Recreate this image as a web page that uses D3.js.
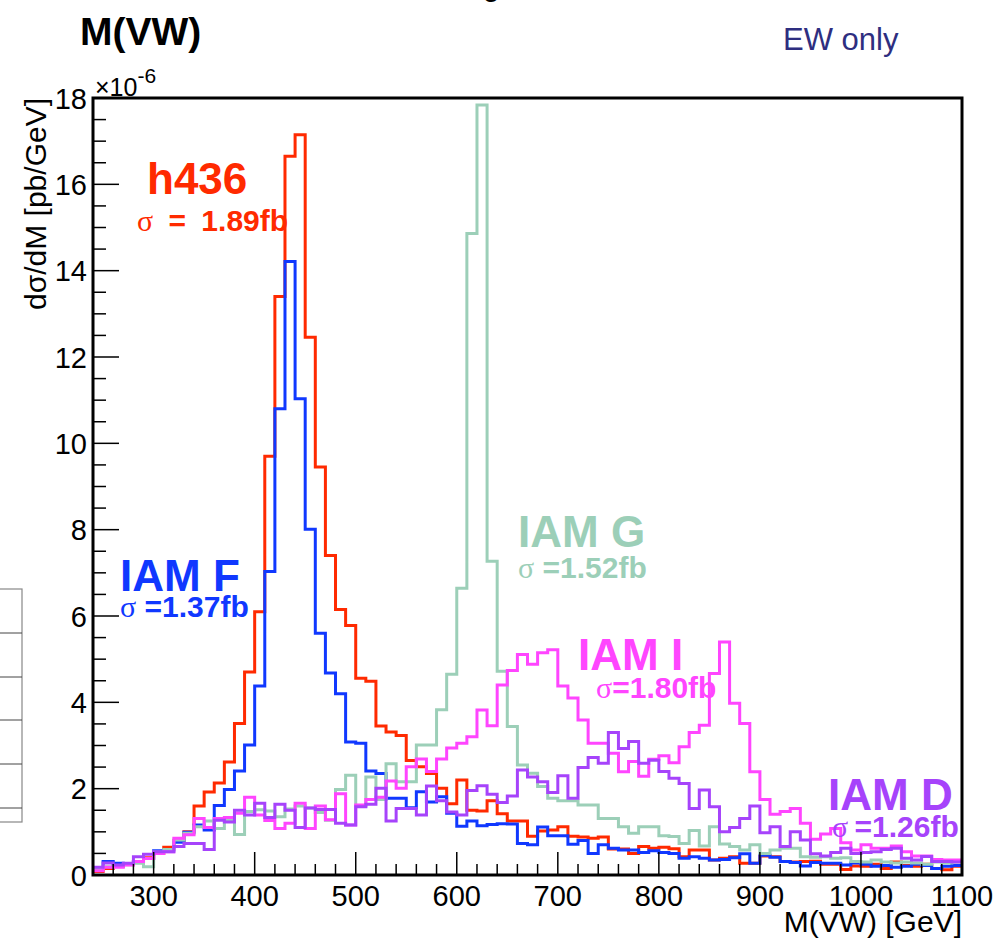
<!DOCTYPE html>
<html>
<head>
<meta charset="utf-8">
<script src="https://cdn.jsdelivr.net/npm/d3@7"></script>
<style>
  html, body { margin: 0; padding: 0; background: #ffffff; }
  svg { display: block; }
  text { font-family: "Liberation Sans", Arial, Helvetica, sans-serif; }
</style>
</head>
<body>
<svg id="chart" width="999" height="943"></svg>
<script>
// M(VW) distributions, 10 GeV bins from 240 to 1100 GeV, in units of 1e-6 pb/GeV
const binLowEdges = d3.range(240, 1100, 10);
const binWidthGeV = 10;

const h436 = [0.08,0.15,0.2,0.25,0.3,0.4,0.5,0.64,0.8,1.0,
  1.6,1.92,2.13,2.62,3.51,4.7,6.1,9.7,13.4,16.65,
  17.15,12.46,9.45,7.4,6.15,5.78,4.56,4.49,3.45,3.31,
  3.23,2.65,2.51,2.35,2.01,1.65,2.2,1.5,1.48,1.72,
  1.42,1.25,1.25,0.9,1.02,1.04,1.12,0.9,0.88,0.85,
  0.88,0.6,0.6,0.5,0.66,0.62,0.64,0.61,0.42,0.58,
  0.58,0.35,0.39,0.42,0.27,0.27,0.44,0.42,0.31,0.3,
  0.31,0.32,0.25,0.25,0.13,0.21,0.2,0.25,0.15,0.3,
  0.22,0.2,0.25,0.15,0.12,0.2];

const iamF = [0.17,0.31,0.27,0.25,0.31,0.38,0.56,0.58,0.76,0.99,
  1.16,1.04,1.61,1.98,2.41,3.01,4.38,7.03,10.8,14.21,
  11.03,8.01,5.6,4.68,4.2,3.08,3.05,2.41,2.35,1.78,
  1.78,1.56,1.93,1.69,1.81,1.43,1.13,1.25,1.14,1.17,
  1.19,1.18,0.73,0.7,1.11,0.91,0.91,0.71,0.8,0.5,
  0.7,0.62,0.58,0.58,0.52,0.56,0.52,0.5,0.39,0.42,
  0.39,0.35,0.36,0.4,0.49,0.27,0.46,0.41,0.31,0.29,
  0.21,0.29,0.27,0.27,0.23,0.28,0.25,0.2,0.22,0.18,
  0.2,0.25,0.22,0.15,0.2,0.22];

const iamG = [0.15,0.19,0.2,0.24,0.27,0.19,0.53,0.59,0.81,0.97,
  1.12,1.25,1.08,1.28,0.94,1.47,1.51,1.48,1.35,1.53,
  1.6,1.55,1.45,1.27,1.98,2.31,1.6,2.27,1.75,2.58,
  2.16,2.16,3.01,3.01,3.83,4.65,6.64,14.86,17.84,7.27,
  4.72,3.44,2.55,2.36,2.05,1.78,1.72,1.72,1.62,1.62,
  1.31,1.31,1.12,0.97,1.12,1.12,0.91,0.89,0.73,1.03,
  0.67,1.12,0.72,0.66,0.58,0.7,0.5,0.58,0.62,0.62,
  0.42,0.41,0.42,0.39,0.4,0.31,0.3,0.35,0.3,0.28,
  0.3,0.28,0.25,0.3,0.28,0.3];

const iamI = [0.1,0.18,0.18,0.23,0.31,0.38,0.5,0.54,0.85,0.93,
  1.31,1.1,1.31,1.33,1.43,1.8,1.39,1.26,1.08,1.2,
  1.66,1.08,1.6,1.28,1.88,1.16,1.62,1.75,1.8,2.18,
  2.01,2.51,2.69,2.4,2.69,2.94,3.05,3.2,3.82,3.46,
  4.4,4.74,5.11,4.88,5.15,5.22,4.38,4.1,3.59,3.05,
  3.05,2.82,2.39,2.63,2.29,2.68,2.76,2.6,2.97,3.3,
  3.47,4.67,5.4,3.98,3.51,2.39,1.75,1.41,1.47,1.54,
  1.2,0.83,0.95,1.08,0.75,0.58,0.7,0.62,0.62,0.67,
  0.54,0.44,0.44,0.36,0.35,0.35];

const iamD = [0.18,0.28,0.23,0.27,0.42,0.48,0.54,0.54,0.66,0.73,
  0.73,0.59,1.27,1.23,1.5,1.39,1.66,1.33,1.64,1.5,
  1.1,1.55,1.52,1.52,1.2,1.16,1.58,1.64,2.01,1.25,
  1.54,1.54,1.39,2.06,1.72,1.46,1.39,1.96,2.07,1.87,
  1.68,1.83,2.43,2.27,2.16,1.91,2.3,1.78,2.49,2.72,
  2.59,3.3,2.93,3.09,2.59,2.66,2.4,2.24,2.12,1.54,
  1.97,1.58,1.0,1.1,1.31,1.6,0.98,1.12,0.66,1.0,
  0.81,0.49,0.44,0.52,0.62,0.5,0.52,0.54,0.59,0.62,
  0.39,0.35,0.43,0.31,0.31,0.3];

const seriesNames = ["h436", "IAM F", "IAM G", "IAM I", "IAM D"];
const seriesValues = [h436, iamF, iamG, iamI, iamD];
const seriesColors = ["#ff2a00", "#1038ff", "#9ccfb8", "#ff45ff", "#a643fb"];
const seriesSigma = ["σ = 1.89fb", "σ =1.37fb", "σ =1.52fb", "σ=1.80fb", "σ =1.26fb"];

const xTickValues = [300, 400, 500, 600, 700, 800, 900, 1000, 1100];
const yTickValues = [0, 2, 4, 6, 8, 10, 12, 14, 16, 18];

const svg = d3.select("#chart");
const frame = { left: 93, right: 962, top: 98, bottom: 875 };

const x = d3.scaleLinear().domain([240, 1100]).range([frame.left, frame.right]);
const y = d3.scaleLinear().domain([0, 18]).range([frame.bottom, frame.top]);

// clipped histogram area
svg.append("defs").append("clipPath").attr("id", "plotClip")
  .append("rect")
  .attr("x", frame.left).attr("y", frame.top)
  .attr("width", frame.right - frame.left).attr("height", frame.bottom - frame.top);

const stepLine = d3.line()
  .x(d => x(d[0]))
  .y(d => y(d[1]))
  .curve(d3.curveStepAfter);

const histLayer = svg.append("g").attr("clip-path", "url(#plotClip)");
seriesValues.forEach((vals, k) => {
  const pts = binLowEdges.map((e, i) => [e, vals[i]]);
  pts.push([binLowEdges[binLowEdges.length - 1] + binWidthGeV, vals[vals.length - 1]]);
  histLayer.append("path")
    .attr("d", stepLine(pts))
    .attr("fill", "none")
    .attr("stroke", seriesColors[k])
    .attr("stroke-width", 3)
    .attr("stroke-linejoin", "miter");
});

// x axis: inward ticks every 20 GeV, long ones every 100 GeV
const gx = svg.append("g").attr("transform", `translate(0,${frame.bottom})`);
d3.range(240, 1101, 20).forEach(v => {
  const major = v % 100 === 0;
  gx.append("line")
    .attr("x1", x(v)).attr("x2", x(v))
    .attr("y1", 0).attr("y2", major ? -23 : -11)
    .attr("stroke", "#000").attr("stroke-width", 1.5);
});
gx.selectAll("text.xt").data(xTickValues).enter().append("text")
  .attr("class", "xt")
  .attr("x", d => x(d)).attr("y", 31)
  .attr("text-anchor", "middle")
  .attr("font-size", 29)
  .text(d => d);

// y axis: inward ticks every 0.5, long ones every 2
const gy = svg.append("g");
d3.range(0, 18.001, 0.5).forEach(v => {
  const major = Math.abs(v % 2) < 1e-9;
  gy.append("line")
    .attr("x1", frame.left).attr("x2", frame.left + (major ? 26 : 13))
    .attr("y1", y(v)).attr("y2", y(v))
    .attr("stroke", "#000").attr("stroke-width", 1.5);
});
gy.selectAll("text.yt").data(yTickValues).enter().append("text")
  .attr("class", "yt")
  .attr("x", frame.left - 6).attr("y", d => y(d) + 10.5)
  .attr("text-anchor", "end")
  .attr("font-size", 29)
  .text(d => d);

// frame
svg.append("rect")
  .attr("x", frame.left).attr("y", frame.top)
  .attr("width", frame.right - frame.left).attr("height", frame.bottom - frame.top)
  .attr("fill", "none").attr("stroke", "#000").attr("stroke-width", 3);

// exponent label
const expo = svg.append("text").attr("x", 95).attr("y", 96).attr("font-size", 25);
expo.append("tspan").text("×10");
expo.append("tspan").attr("dy", -13).attr("font-size", 21).text("-6");

// axis titles
svg.append("text")
  .attr("transform", `translate(46,${frame.top}) rotate(-90)`)
  .attr("text-anchor", "end")
  .attr("font-size", 30)
  .text("dσ/dM [pb/GeV]");

svg.append("text")
  .attr("x", frame.right).attr("y", 932)
  .attr("text-anchor", "end")
  .attr("font-size", 30)
  .text("M(VW) [GeV]");

// titles
svg.append("text").attr("x", 80).attr("y", 45)
  .attr("font-size", 39).attr("font-weight", "bold").text("M(VW)");
svg.append("text").attr("x", 783).attr("y", 50)
  .attr("font-size", 31).attr("fill", "#2e2e80").text("EW only");
svg.append("text").attr("x", 483).attr("y", -4)
  .attr("font-size", 30).text("g");

// model labels with cross sections
const labelPos = [
  { x: 147, y: 194, sx: 137, sy: 231, ws: 7 },
  { x: 120, y: 591, sx: 120, sy: 617, ws: 0 },
  { x: 518, y: 547, sx: 518, sy: 578, ws: 0 },
  { x: 578, y: 670, sx: 596, sy: 698, ws: 0 },
  { x: 828, y: 810, sx: 832, sy: 837, ws: -2 }
];
seriesNames.forEach((name, k) => {
  const p = labelPos[k];
  svg.append("text").attr("x", p.x).attr("y", p.y)
    .attr("font-size", 44).attr("font-weight", "bold")
    .attr("fill", seriesColors[k]).text(name);
  const s = svg.append("text").attr("x", p.sx).attr("y", p.sy)
    .attr("font-size", 30).attr("font-weight", "bold")
    .attr("word-spacing", p.ws)
    .attr("fill", seriesColors[k]);
  const sig = seriesSigma[k];
  s.append("tspan").attr("font-family", "'Liberation Serif', serif")
    .attr("font-weight", "normal").text(sig.charAt(0));
  s.append("tspan").text(sig.slice(1));
});

// neighbouring panel edge on the left
const side = svg.append("g").attr("stroke", "#888").attr("fill", "none");
side.append("rect").attr("x", -2).attr("y", 589).attr("width", 24).attr("height", 233).attr("stroke-width", 1.2);
[633, 677, 720, 764, 808].forEach(v => {
  side.append("line").attr("x1", 0).attr("x2", 22).attr("y1", v).attr("y2", v)
    .attr("stroke", "#444").attr("stroke-width", 1);
});
</script>
</body>
</html>
